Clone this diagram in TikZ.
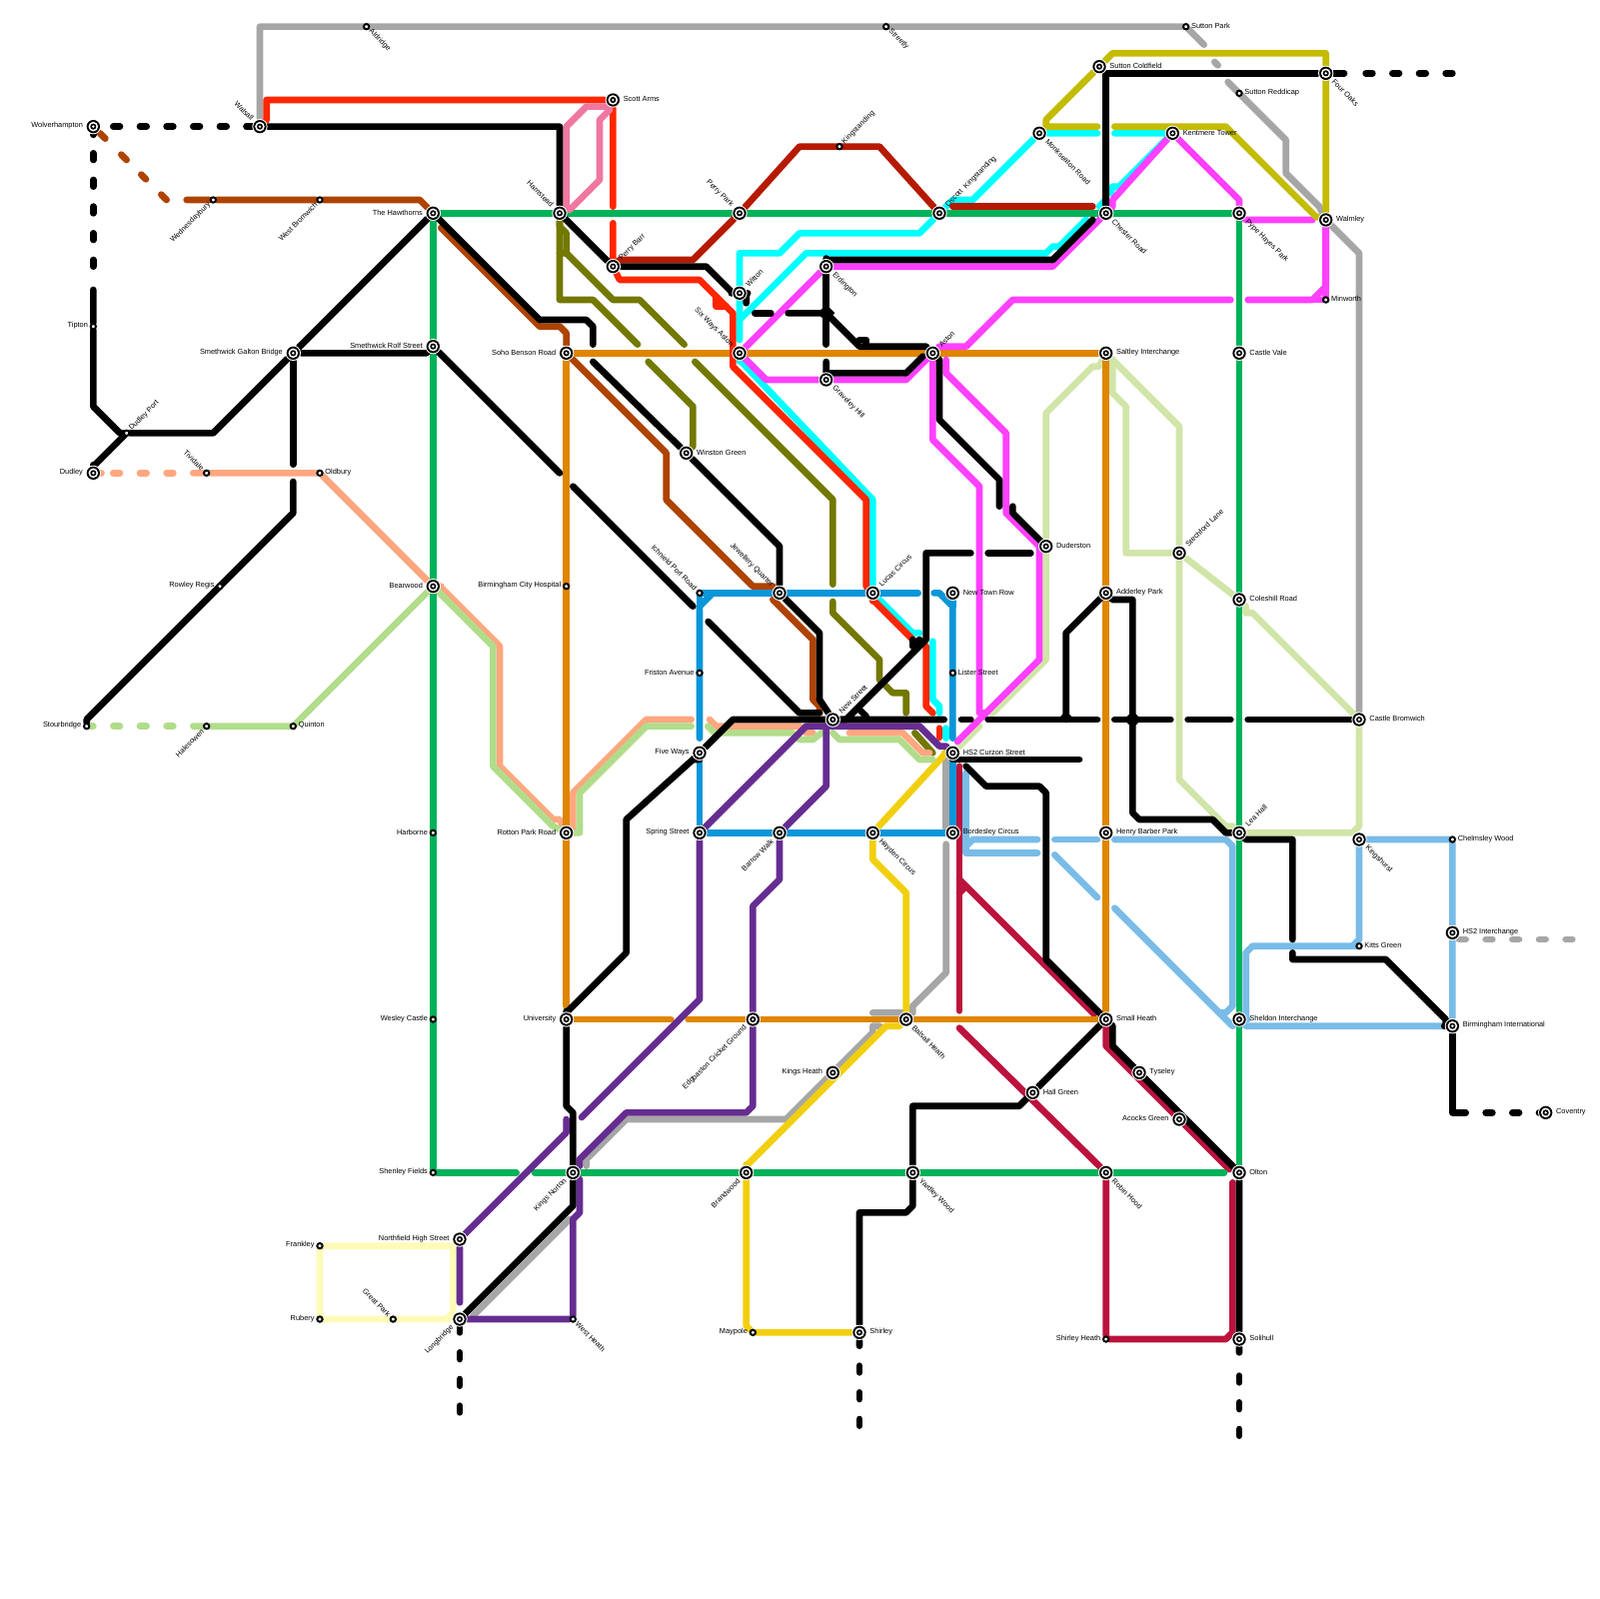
\documentclass[tikz,border=0pt]{standalone}
\usepackage{fontspec}
\setmainfont{Liberation Sans}
\pgfdeclarelayer{lines}
\pgfsetlayers{lines,main}
\definecolor{cgrey}{HTML}{A6A6A6}
\definecolor{cpale}{HTML}{FEFBB8}
\definecolor{csage}{HTML}{D1E5A8}
\definecolor{csky}{HTML}{79BCE8}
\definecolor{ccrim}{HTML}{BB133E}
\definecolor{cyell}{HTML}{F2CF0E}
\definecolor{colive}{HTML}{737800}
\definecolor{cbrown}{HTML}{AE4300}
\definecolor{csalm}{HTML}{FFA77F}
\definecolor{clgreen}{HTML}{B1DD8B}
\definecolor{cgreen}{HTML}{00B259}
\definecolor{corange}{HTML}{DF8600}
\definecolor{ccyan}{HTML}{00FFFF}
\definecolor{cred}{HTML}{FF2600}
\definecolor{cmag}{HTML}{FF40FF}
\definecolor{clime}{HTML}{C4BC00}
\definecolor{cpink}{HTML}{F078A0}
\definecolor{cdred}{HTML}{B51A00}
\definecolor{cblue}{HTML}{0A96D9}
\definecolor{cpurp}{HTML}{662D91}
\tikzset{
  ln/.style={line width=1mm,line cap=round,line join=round},
  dsh/.style={ln,dash pattern=on 1mm off 3mm},
  bigst/.style={circle,inner sep=0pt,minimum size=2.3mm,fill=white,
    path picture={
      \fill[black] (path picture bounding box.center) circle (1mm);
      \fill[white] (path picture bounding box.center) circle (0.72mm);
      \fill[black] (path picture bounding box.center) circle (0.46mm);
      \fill[white] (path picture bounding box.center) circle (0.2mm);}},
  smallst/.style={circle,inner sep=0pt,minimum size=0.8mm,fill=white,draw=black,line width=0.3mm},
  lab/.style={inner sep=0pt,font=\fontsize{3.15pt}{3.5pt}\selectfont,text=black},
  lbR/.style={lab,anchor=west,xshift=#1*1mm,yshift=0.1mm},
  lbL/.style={lab,anchor=east,xshift=-#1*1mm,yshift=0.1mm},
  lbNE/.style={lab,anchor=west,xshift=0.71*#1*1mm,yshift=0.71*#1*1mm,rotate=45},
  lbSE/.style={lab,anchor=west,xshift=0.71*#1*1mm,yshift=-0.71*#1*1mm,rotate=-45},
  lbNW/.style={lab,anchor=east,xshift=-0.71*#1*1mm,yshift=0.71*#1*1mm,rotate=-45},
  lbSW/.style={lab,anchor=east,xshift=-0.71*#1*1mm,yshift=-0.71*#1*1mm,rotate=45},
}
\newcommand{\stbig}[4]{\node[bigst] (#1) at (#2) {}; \node[lb#3=1.5] (lab#1) at (#1) {#4};}
\newcommand{\stsmall}[4]{\node[smallst] (#1) at (#2) {}; \node[lb#3=0.75] (lab#1) at (#1) {#4};}
\begin{document}
\begin{tikzpicture}[x=1mm,y=-1mm]
\useasboundingbox (0,0) rectangle (240,240);
\stbig{Wol}{14,19}{L}{Wolverhampton}
\stbig{Wal}{39,19}{NW}{Walsall}
\stsmall{Ald}{55,4}{SE}{Aldridge}
\stsmall{Stl}{133,4}{SE}{Streetly}
\stsmall{Sup}{178,4}{R}{Sutton Park}
\stbig{Suc}{165,10}{R}{Sutton Coldfield}
\stbig{Fou}{199,11}{SE}{Four Oaks}
\stsmall{Red}{186,14}{R}{Sutton Reddicap}
\stbig{Sco}{92,15}{R}{Scott Arms}
\stsmall{Kng}{126,22}{NE}{Kingstanding}
\stbig{Mon}{156,20}{SE}{Monkseaton Road}
\stbig{Ken}{176,20}{R}{Kentmere Tower}
\stsmall{Wed}{32,30}{SW}{Wednesdaybury}
\stsmall{WeB}{48,30}{SW}{West Bromwich}
\stbig{Haw}{65,32}{L}{The Hawthorns}
\stbig{Ham}{84,32}{NW}{Hamstead}
\stbig{Per}{111,32}{NW}{Perry Park}
\stbig{Osc}{141,32}{NE}{Oscott\ \ Kingstanding}
\stbig{Che}{166,32}{SE}{Chester Road}
\stbig{Pyp}{186,32}{SE}{Pype Hayes Park}
\stbig{Wlm}{199,33}{R}{Walmley}
\stbig{PB}{92,40}{NE}{Perry Barr}
\stbig{Erd}{124,40}{SE}{Erdington}
\stbig{Wit}{111,44}{NE}{Witton}
\stsmall{Min}{199,45}{R}{Minworth}
\stsmall{Tip}{14,49}{L}{Tipton}
\stbig{Rol}{65,52}{L}{Smethwick Rolf Street}
\stbig{Gal}{44,53}{L}{Smethwick Galton Bridge}
\stbig{Soh}{85,53}{L}{Soho Benson Road}
\stbig{Six}{111,53}{NW}{Six Ways Aston}
\stbig{Ast}{140,53}{NE}{Aston}
\stbig{Sal}{166,53}{R}{Saltley Interchange}
\stbig{CaV}{186,53}{R}{Castle Vale}
\stbig{Gra}{124,57}{SE}{Graveley Hill}
\stsmall{DuP}{19,65}{NE}{Dudley Port}
\stbig{Dud}{14,71}{L}{Dudley}
\stsmall{Tiv}{31,71}{NW}{Tividale}
\stsmall{Old}{48,71}{R}{Oldbury}
\stbig{Win}{103,68}{R}{Winston Green}
\stbig{Dur}{157,82}{R}{Duderston}
\stbig{Ste}{177,83}{NE}{Stechford Lane}
\stbig{Col}{186,90}{R}{Coleshill Road}
\stbig{Bea}{65,88}{L}{Bearwood}
\stsmall{Row}{33,88}{L}{Rowley Regis}
\stsmall{BCH}{85,88}{L}{Birmingham City Hospital}
\stsmall{Ich}{105,89}{NW}{Ichnield Port Road}
\stbig{Jew}{117,89}{NW}{Jewellery Quarter}
\stbig{Luc}{131,89}{NE}{Lucas Circus}
\stbig{NTR}{143,89}{R}{New Town Row}
\stbig{Add}{166,89}{R}{Adderley Park}
\stsmall{Fri}{105,101}{L}{Friston Avenue}
\stsmall{Lis}{143,101}{R}{Lister Street}
\stbig{New}{125,108}{NE}{New Street}
\stbig{CB}{204,108}{R}{Castle Bromwich}
\stsmall{Sto}{13,109}{L}{Stourbridge}
\stsmall{Hal}{31,109}{SW}{Halesowen}
\stsmall{Qui}{44,109}{R}{Quinton}
\stbig{Fiv}{105,113}{L}{Five Ways}
\stbig{Cur}{143,113}{R}{HS2 Curzon Street}
\stsmall{Har}{65,125}{L}{Harborne}
\stbig{Rot}{85,125}{L}{Rotton Park Road}
\stbig{Spr}{105,125}{L}{Spring Street}
\stbig{Bar}{117,125}{SW}{Barrow Walk}
\stbig{Hay}{131,125}{SE}{Hayden Circus}
\stbig{Bor}{143,125}{R}{Bordesley Circus}
\stbig{Hen}{166,125}{R}{Henry Barber Park}
\stbig{Lea}{186,125}{NE}{Lea Hall}
\stbig{Kin}{204,126}{SE}{Kingshurst}
\stsmall{Chw}{218,126}{R}{Chelmsley Wood}
\stsmall{KG}{204,142}{R}{Kitts Green}
\stbig{HSI}{218,140}{R}{HS2 Interchange}
\stsmall{Wes}{65,153}{L}{Wesley Castle}
\stbig{Uni}{85,153}{L}{University}
\stbig{Edg}{113,153}{SW}{Edgbaston Cricket Ground}
\stbig{Bal}{136,153}{SE}{Balsall Heath}
\stbig{Sma}{166,153}{R}{Small Heath}
\stbig{She}{186,153}{R}{Sheldon Interchange}
\stbig{BI}{218,154}{R}{Birmingham International}
\stbig{KiH}{125,161}{L}{Kings Heath}
\stbig{HaG}{155,164}{R}{Hall Green}
\stbig{Tys}{171,161}{R}{Tyseley}
\stbig{Aco}{177,168}{L}{Acocks Green}
\stbig{Cov}{232,167}{R}{Coventry}
\stsmall{Shf}{65,176}{L}{Shenley Fields}
\stbig{Kno}{86,176}{SW}{Kings Norton}
\stbig{Bra}{112,176}{SW}{Brandwood}
\stbig{Yar}{137,176}{SE}{Yardley Wood}
\stbig{Rob}{166,176}{SE}{Robin Hood}
\stbig{Ole}{186,176}{R}{Olton}
\stbig{Nor}{69,186}{L}{Northfield High Street}
\stsmall{Fra}{48,187}{L}{Frankley}
\stsmall{Rub}{48,198}{L}{Rubery}
\stsmall{GrP}{59,198}{NW}{Great Park}
\stbig{Lon}{69,198}{SW}{Longbridge}
\stsmall{WHe}{86,198}{SE}{West Heath}
\stsmall{Map}{113,200}{L}{Maypole}
\stbig{Shi}{129,200}{R}{Shirley}
\stsmall{Shh}{166,201}{L}{Shirley Heath}
\stbig{Sol}{186,201}{R}{Solihull}
\begin{pgfonlayer}{lines}
% grey
\draw[ln,cgrey] (Wal)--(39,4)--(Sup)--(180.7,6.7);
\draw[ln,cgrey] (182.3,9.3)--(182.8,9.8);
\draw[ln,cgrey] (184.3,12.3)--(193,21)--(193,26)--(198,31)--(Wlm)--(204,38)--(CB);
\draw[ln,cgrey] (142,114)--(142,124.3);
\draw[ln,cgrey] (142,126.7)--(142,146)--(137,151)--(137,152)--(131,152);
\draw[ln,cgrey] (132,154)--(131,154)--(131,155)--(118,168)--(94,168)--(88,174)--(88,175);
\draw[dsh,cgrey] (219,141)--(237,141);
\draw[ln,cgrey] (85.5,183)--(71,197.5);
% pale
\draw[ln,cpale] (Fra)--(68,187)--(68,197)--(67,198)--(GrP)--(Rub)--(Fra);
\draw[ln,cpale] (Nor)--(68,187);
\draw[ln,cpale] (Lon)--(67,198);
% sage
\draw[ln,csage] (Sal)--(165,55)--(164,55)--(157,62)--(Dur)--(157,99)--(148.9,107.1);
\draw[ln,csage] (147,109)--(144,112)--(Cur);
\draw[ln,csage] (Sal)--(167,55)--(167,59)--(169,61)--(169,83)--(Ste);
\draw[ln,csage] (Sal)--(167,54)--(177,64)--(Ste)--(177,117)--(184,124)--(185,124)--(Lea)--(203,125)--(204,124)--(CB);
\draw[ln,csage] (Ste)--(Col)--(187,91)--(187,92)--(188,92)--(CB);
% sky
\draw[ln,csky] (145,116)--(145,128)--(155.7,128);
\draw[ln,csky] (145,127)--(146,126)--(155.7,126);
\draw[ln,csky] (158.3,126)--(164.7,126);
\draw[ln,csky] (167.3,126)--(184,126)--(185,127)--(185,151)--(184,152)--(183,152);
\draw[ln,csky] (158.3,128.3)--(164.7,134.7);
\draw[ln,csky] (167.3,136.3)--(185,154)--(She);
\draw[ln,csky] (She)--(187,153)--(187,143)--(188,142)--(203,142)--(204,141)--(Kin)--(Chw)--(HSI)--(BI);
\draw[ln,csky] (She)--(187,154)--(BI);
\draw[ln,csky] (203,142)--(KG);
% crimson
\draw[ln,ccrim] (144,115)--(144,151.7);
\draw[ln,ccrim] (144,154.3)--(Rob)--(Shh)--(184,201)--(185,200)--(185,177.5);
\draw[ln,ccrim] (144,132)--(164.2,152.2);
\draw[ln,ccrim] (144,134)--(145,133);
\draw[ln,ccrim] (Sma)--(166,157)--(184.5,175.5);
% yellow
\draw[ln,cyell] (Hay)--(142,113)--(Cur);
\draw[ln,cyell] (Hay)--(131,129)--(136,134)--(Bal)--(135,154)--(133,154)--(112,175)--(Bra)--(112,199)--(Map)--(Shi);
% olive
\draw[ln,colive] (Ham)--(84,45)--(89,45)--(95.7,51.7);
\draw[ln,colive] (97.3,54.3)--(104,61)--(104,67)--(Win);
\draw[ln,colive] (Ham)--(84,34)--(85,35)--(85,38)--(84,38);
\draw[ln,colive] (85,38)--(92,45)--(96,45)--(102.7,51.7);
\draw[ln,colive] (104.3,54.3)--(125,75)--(125,87.7);
\draw[ln,colive] (125,90.3)--(125,92)--(132,99)--(132,102)--(134,104)--(136,104)--(136,107);
\draw[ln,colive] (137.3,110)--(140,113);
% brown
\draw[ln,cbrown] (15,20)--(15.8,20.8) (18.2,23.2)--(19,24) (21.2,26.2)--(21.9,26.9) (24.2,29.2)--(25,30);
\draw[ln,cbrown] (28,30)--(Wed)--(WeB)--(63,30)--(Haw);
\draw[ln,cbrown] (66.2,34.2)--(81,49)--(84,49)--(85,50)--(Soh)--(100,68)--(100,75)--(113,88)--(116,88);
\draw[ln,cbrown] (116,90)--(122,96)--(122,105)--(123,106)--(123,107);
% salmon
\draw[ln,csalm] (Dud)--(15,71) (17,71)--(18,71) (21,71)--(22,71) (25,71)--(26,71);
\draw[ln,csalm] (29,71)--(Tiv)--(Old)--(Bea)--(66,88)--(75,97)--(75,115)--(83,123)--(84,123)--(Rot)--(86,125)--(86,119)--(97,108)--(103.75,108);
\draw[ln,csalm] (106.5,108)--(107.5,109)--(120,109)--(121,110)--(122,110);
\draw[ln,csalm] (127.5,110)--(135.5,110)--(138.5,113)--(139.5,113);
% light green
\draw[ln,clgreen] (Sto)--(14,109) (17,109)--(18,109) (21,109)--(22,109) (25,109)--(26,109);
\draw[ln,clgreen] (29,109)--(Hal)--(Qui)--(Bea)--(66,89)--(74,97)--(74,115)--(83,124)--(Rot)--(87,125)--(87,119)--(97,109)--(103.75,109);
\draw[ln,clgreen] (106.25,109)--(107.25,110)--(119,110)--(120,111)--(122,111)--(123.3,110);
\draw[ln,clgreen] (125,110)--(126,111)--(135,111)--(138,114)--(140,114);
% main green
\draw[ln,cgreen] (Haw)--(Pyp)--(Ole);
\draw[ln,cgreen] (Haw)--(Shf)--(77.5,176);
\draw[ln,cgreen] (80.25,176)--(183.75,176);
% orange
\draw[ln,corange] (Soh)--(Sal)--(Sma)--(103.3,153);
\draw[ln,corange] (100.7,153)--(Uni);
\draw[ln,corange] (Soh)--(85,151);
% cyan
\draw[ln,ccyan] (111,51)--(111,38)--(117,38)--(120,35)--(138,35)--(Osc)--(143,30)--(146,30)--(Mon)--(164.7,20);
\draw[ln,ccyan] (167.3,20)--(Ken)--(168,28)--(167,28)--(166.7,29);
\draw[ln,ccyan] (165,31)--(166,30);
\draw[ln,ccyan] (163,33)--(159,37)--(158,37)--(157,38)--(121,38)--(111,48);
\draw[ln,ccyan] (Six)--(111,54)--(131,75)--(Luc);
\draw[ln,ccyan] (Luc)--(132,90)--(137,95)--(138,95);
\draw[ln,ccyan] (140,96.25)--(140,105)--(141,106)--(141,107);
\draw[ln,ccyan] (142,109.3)--(142,110.8);
% red
\draw[ln,cred] (Wal)--(40,18)--(40,15)--(Sco)--(92,31);
\draw[ln,cred] (92,33.5)--(PB)--(93,42)--(105,42)--(110,47)--(110,55)--(130,75)--(130,88)--(Luc);
\draw[ln,cred] (107.5,44.5)--(107.5,46)--(109,46);
\draw[ln,cred] (Luc)--(131,90)--(137,96);
\draw[ln,cred] (139,97)--(139,106)--(140,107);
\draw[ln,cred] (141,109.3)--(141,110.7);
% magenta
\draw[ln,cmag] (Erd)--(158,40)--(Che)--(167,31)--(167,30)--(Ken)--(186,30)--(Pyp)--(187,33)--(197,33);
\draw[ln,cmag] (Wlm)--(199,43)--(197,45)--(187.3,45);
\draw[ln,cmag] (197,45)--(Min)--(Wlm);
\draw[ln,cmag] (184.7,45)--(152,45)--(145,52)--(141,52)--(Ast);
\draw[ln,cmag] (Erd)--(Six)--(115,57)--(Gra)--(136,57)--(Ast);
\draw[ln,cmag] (Ast)--(140,66)--(147,73)--(147,107)--(148,107);
\draw[ln,cmag] (142,54)--(142,56)--(151,65)--(151,77)--(156,82)--(156,99)--(143.7,111.3);
% lime
\draw[ln,clime] (Suc)--(167,8)--(199,8)--(Wlm);
\draw[ln,clime] (Suc)--(157,18)--(157,19)--(164.7,19);
\draw[ln,clime] (167.3,19)--(184,19)--(197.5,32.5)--(Wlm);
% pink
\draw[ln,cpink] (Sco)--(91,16)--(88,16)--(85,19)--(85,31)--(Ham);
\draw[ln,cpink] (91.5,16.5)--(90,18)--(90,27)--(85.5,31.5)--(85,31);
% dark red
\draw[ln,cdred] (PB)--(93,39)--(104,39)--(Per)--(120,22)--(132,22)--(Osc);
\draw[ln,cdred] (143,31)--(164,31);
% blue
\draw[ln,cblue] (Ich)--(137.8,89);
\draw[ln,cblue] (140.2,89)--(141,89)--(143,91)--(143,110.8);
\draw[ln,cblue] (NTR)--(143,91);
\draw[ln,cblue] (Cur)--(Bor)--(Spr)--(105,123.3);
\draw[ln,cblue] (Fiv)--(105,123.3);
\draw[ln,cblue] (105,110.8)--(105,91)--(107,89);
\draw[ln,cblue] (Ich)--(105,91);
% purple
\draw[ln,cpurp] (Spr)--(121,109)--(138,109)--(141,112)--(142,112)--(Cur);
\draw[ln,cpurp] (124,109)--(124,118)--(Bar)--(117,132)--(113,136)--(Edg)--(113,166)--(112,167)--(94,167)--(87,174)--(87,175);
\draw[ln,cpurp] (87,177)--(87,182)--(86,183)--(WHe)--(Lon);
\draw[ln,cpurp] (Spr)--(105,150)--(87.3,167.7);
\draw[ln,cpurp] (85,168)--(85,170)--(Nor)--(69,195.5);
% black
\draw[dsh,black] (17,19)--(38,19);
\draw[ln,black] (37,19)--(Wal);
\draw[ln,black] (Wol)--(14,20);
\draw[dsh,black] (14,23)--(14,41);
\draw[ln,black] (14,43.5)--(Tip)--(14,61)--(18,65)--(DuP)--(32,65)--(Gal)--(Haw);
\draw[ln,black] (19,65)--(14,70)--(Dud);
\draw[ln,black] (Wal)--(84,19)--(Ham)--(PB)--(106,40)--(110,44)--(Wit)--(112,44)--(112,45.5);
\draw[ln,black] (113.3,47)--(115.7,47);
\draw[ln,black] (118.3,47)--(124,47)--(129,52)--(139,52)--(Ast);
\draw[ln,black] (129,51)--(130,51)--(130,52);
\draw[ln,black] (Erd)--(124,51.7);
\draw[ln,black] (124,54.3)--(124,56)--(136,56)--(138.5,53.5);
\draw[ln,black] (Erd)--(124,39)--(158,39)--(164,33);
\draw[ln,black] (Che)--(166,11)--(Fou)--(201.75,11);
\draw[dsh,black] (205,11)--(218.5,11);
\draw[ln,black] (Haw)--(81,48)--(88,48)--(89,49)--(89,51.7);
\draw[ln,black] (89,54.3)--(Win)--(117,82)--(Jew)--(123,95)--(123,105)--(New);
\draw[ln,black] (Rol)--(84,71);
\draw[ln,black] (86,73)--(104,91);
\draw[ln,black] (106.3,93.3)--(120,107)--(123,107);
\draw[ln,black] (Gal)--(64,53)--(Rol);
\draw[ln,black] (Gal)--(44,69.7);
\draw[ln,black] (44,72.3)--(44,77)--(13,108)--(Sto);
\draw[ln,black] (Fiv)--(110,108)--(141.7,108);
\draw[ln,black] (144.3,108)--(145.7,108);
\draw[ln,black] (148.3,108)--(164.7,108);
\draw[ln,black] (167.3,108)--(175.7,108);
\draw[ln,black] (178.3,108)--(184.7,108);
\draw[ln,black] (187.3,108)--(CB);
\draw[ln,black] (Fiv)--(104,114)--(94,123)--(94,143)--(85,152)--(Uni);
\draw[ln,black] (Fiv)--(104,114)--(105,114);
\draw[ln,black] (Uni)--(85,166)--(86,167)--(Kno)--(86,181)--(Lon);
\draw[ln,black] (129,106.5)--(130,107.5);
\draw[ln,black] (154.7,83)--(148.3,83);
\draw[ln,black] (145.7,83)--(139,83)--(139,96)--(127,108)--(New);
\draw[ln,black] (137,96)--(137,97)--(138,96);
\draw[ln,black] (Ast)--(141,54)--(141,63)--(150,72)--(150,76);
\draw[ln,black] (152,76)--(152,77)--(Dur);
\draw[ln,black] (143,114)--(162,114);
\draw[ln,black] (145,115)--(148,118)--(156,118)--(157,119)--(157,144)--(Sma)--(167,154)--(167,157)--(Ole)--(Sol)--(186,203);
\draw[ln,black] (Sma)--(HaG)--(153,166)--(137,166)--(Yar)--(137,181)--(136,182)--(129,182)--(Shi)--(129,202);
\draw[dsh,black] (129,205)--(129,215);
\draw[ln,black] (Lon)--(69,200);
\draw[dsh,black] (69,203)--(69,213);
\draw[dsh,black] (186,206.5)--(186,216);
\draw[ln,black] (Add)--(160,95)--(160,108);
\draw[ln,black] (Add)--(167,90)--(170,90)--(170,122)--(171,123)--(182,123)--(184,125)--(Lea)--(187,126)--(194,126)--(194,141);
\draw[ln,black] (194,143)--(194,144)--(208,144)--(217,153)--(217,154)--(BI);
\draw[ln,black] (BI)--(218,167)--(220,167);
\draw[dsh,black] (223,167)--(231.5,167);
\fill[black] (122.7,47)--(124,45.7)--(125.3,47)--(124,48.3)--cycle;
\fill[black] (168.7,108)--(170,106.7)--(171.3,108)--(170,109.3)--cycle;
\fill[black] (158.7,108)--(160,106.7)--(161.3,108)--cycle;
\end{pgfonlayer}
\end{tikzpicture}
\end{document}
